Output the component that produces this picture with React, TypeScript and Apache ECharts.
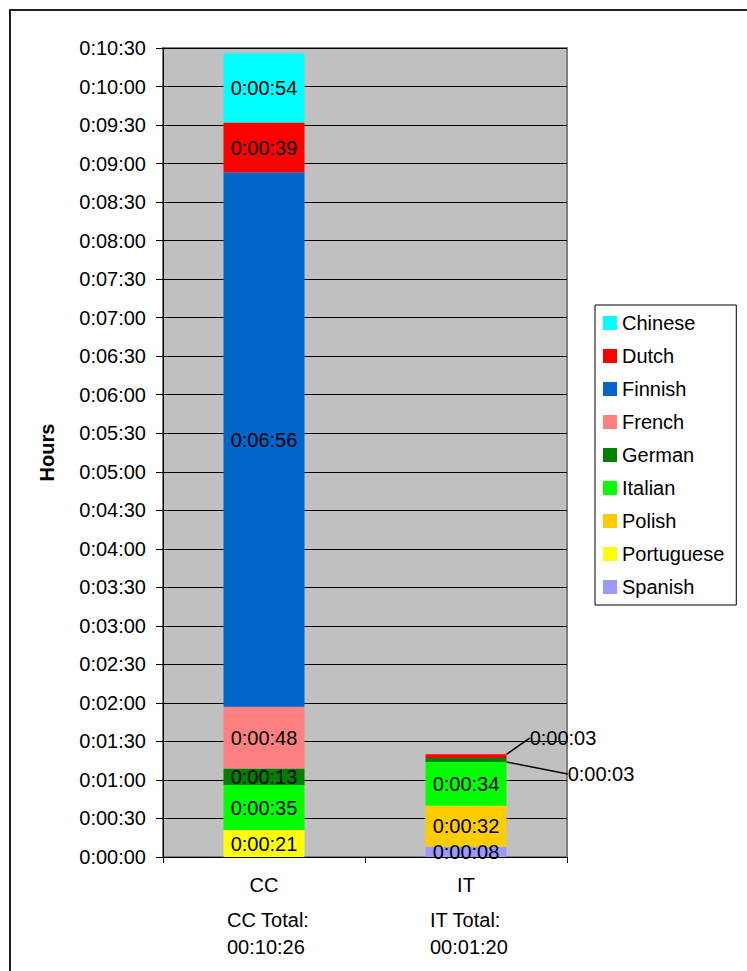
import React, { useEffect, useRef } from "react";
import * as echarts from "echarts";

// Translation time per language, in seconds
const categories = ["CC", "IT"];
const spanish = [null, 8];
const portuguese = [21, null];
const polish = [null, 32];
const italian = [35, 34];
const german = [13, 3];
const french = [48, null];
const finnish = [416, null];
const dutch = [39, 3];
const chinese = [54, null];

const yMax = 630;
const yStep = 30;

const FONT = "Liberation Sans, Arial, sans-serif";
const FS = 20;

const pad2 = (n: number) => String(n).padStart(2, "0");
const fmtTick = (s: number) =>
  `${Math.floor(s / 3600)}:${pad2(Math.floor((s % 3600) / 60))}:${pad2(s % 60)}`;
const fmtTotal = (s: number) =>
  `${pad2(Math.floor(s / 3600))}:${pad2(Math.floor((s % 3600) / 60))}:${pad2(s % 60)}`;

type Lang = { name: string; color: string; data: (number | null)[] };

// Bottom-to-top stacking order
const languages: Lang[] = [
  { name: "Spanish", color: "#9999FF", data: spanish },
  { name: "Portuguese", color: "#FFFF00", data: portuguese },
  { name: "Polish", color: "#FFCC00", data: polish },
  { name: "Italian", color: "#00FF00", data: italian },
  { name: "German", color: "#008000", data: german },
  { name: "French", color: "#FF8080", data: french },
  { name: "Finnish", color: "#0066CC", data: finnish },
  { name: "Dutch", color: "#FF0000", data: dutch },
  { name: "Chinese", color: "#00FFFF", data: chinese },
];

// Thin slices on the IT bar get their labels pulled out with leader lines
const calloutShift: Record<string, { dx: number; dy: number }> = {
  Dutch: { dx: 97, dy: -18 },
  German: { dx: 135, dy: 14 },
};

export default function App() {
  const ref = useRef<HTMLDivElement>(null);

  useEffect(() => {
    if (!ref.current) return;
    const chart = echarts.init(ref.current, null, { renderer: "svg" });

    const totals = categories.map((_, i) =>
      languages.reduce((acc, l) => acc + (l.data[i] ?? 0), 0)
    );

    const series = languages.map((l) => {
      const shift = calloutShift[l.name];
      return {
        name: l.name,
        type: "bar",
        stack: "time",
        barWidth: 81,
        itemStyle: { color: l.color },
        label: {
          show: true,
          position: "inside",
          fontSize: FS,
          fontFamily: FONT,
          color: "#000",
          formatter: (p: any) => fmtTick(p.value),
        },
        data: l.data.map((v, i) => {
          if (v === null) return "-";
          if (shift && i === 1) {
            return { value: v, labelLine: { show: true, lineStyle: { color: "#000", width: 1.5 } } };
          }
          return v;
        }),
        labelLayout: shift
          ? (p: any) => (p.dataIndex === 1 ? { dx: shift.dx, dy: shift.dy } : {})
          : undefined,
      };
    });

    const totalTexts = categories.map((c, i) => ({
      type: "text",
      left: i === 0 ? 227 : 430,
      top: 906,
      style: {
        text: `${c} Total:\n${fmtTotal(totals[i])}`,
        font: `${FS}px ${FONT}`,
        fill: "#000",
        lineHeight: 27,
      },
    }));

    chart.setOption({
      animation: false,
      backgroundColor: "#fff",
      grid: {
        left: 163,
        top: 48,
        right: 180,
        bottom: 114,
        show: true,
        backgroundColor: "#C0C0C0",
        borderColor: "#808080",
        borderWidth: 2,
      },
      xAxis: {
        type: "category",
        data: categories,
        axisLine: { lineStyle: { color: "#000", width: 1 } },
        axisTick: { show: true, alignWithLabel: false, length: 6, lineStyle: { color: "#000" } },
        axisLabel: { fontSize: FS, fontFamily: FONT, color: "#000", margin: 18 },
      },
      yAxis: {
        type: "value",
        min: 0,
        max: yMax,
        interval: yStep,
        name: "Hours",
        nameLocation: "middle",
        nameGap: 106,
        nameTextStyle: { fontSize: FS, fontWeight: "bold", fontFamily: FONT, color: "#000" },
        axisLine: { show: true, lineStyle: { color: "#000", width: 1 } },
        axisTick: { show: true, length: 7, lineStyle: { color: "#000" } },
        axisLabel: {
          fontSize: FS,
          fontFamily: FONT,
          color: "#000",
          margin: 17,
          formatter: (v: number) => fmtTick(v),
        },
        splitLine: { show: true, lineStyle: { color: "#000", width: 1 } },
      },
      legend: {
        orient: "vertical",
        left: 595,
        top: 305,
        icon: "rect",
        itemWidth: 14,
        itemHeight: 14,
        itemGap: 13,
        padding: [8, 12, 8, 8],
        borderColor: "#000",
        borderWidth: 1,
        textStyle: { fontSize: FS, fontFamily: FONT, color: "#000" },
        data: [...languages].reverse().map((l) => l.name),
      },
      graphic: [
        {
          type: "rect",
          shape: { x: 10, y: 10, width: 800, height: 1000 },
          style: { fill: "none", stroke: "#222", lineWidth: 2 },
          silent: true,
        },
        ...totalTexts,
      ],
      series,
    });

    return () => chart.dispose();
  }, []);

  return (
    <div
      ref={ref}
      style={{ position: "absolute", left: 0, top: 0, width: 747, height: 971 }}
    />
  );
}
